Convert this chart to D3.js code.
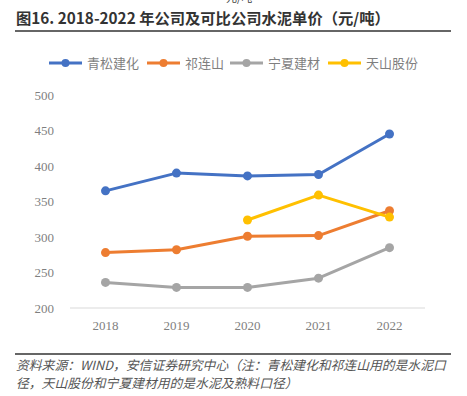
<!DOCTYPE html>
<html>
<head>
<meta charset="utf-8">
<script src="https://cdn.jsdelivr.net/npm/d3@7"></script>
<style>
  body { margin: 0; background: #fff; }
  svg { display: block; }
</style>
</head>
<body>
<svg id="chart" width="467" height="396"></svg>
<script>
const years = ["2018", "2019", "2020", "2021", "2022"];
const seriesNames = ["青松建化", "祁连山", "宁夏建材", "天山股份"];
const qingsong = [365, 390, 386, 388, 445];
const qilianshan = [278, 282, 301, 302, 337];
const ningxia = [236, 229, 229, 242, 285];
const tianshan = [null, null, 324, 359, 328];
const yTicks = [200, 250, 300, 350, 400, 450, 500];
const colors = ["#4472C4", "#ED7D31", "#A5A5A5", "#FFC000"];

const seriesData = [qingsong, qilianshan, ningxia, tianshan];

const svg = d3.select("#chart");
const cjk = "'Noto Sans CJK SC', 'Noto Sans', sans-serif";

// leftover caption from previous figure, mostly above the top edge
svg.append("text")
  .attr("x", 226).attr("y", 2)
  .attr("font-family", cjk).attr("font-size", 11)
  .attr("fill", "#444")
  .text("元/吨");

// title
svg.append("text")
  .attr("x", 16).attr("y", 24)
  .attr("font-family", cjk).attr("font-size", 15.3)
  .attr("font-weight", "bold").attr("fill", "#333")
  .text("图16. 2018-2022 年公司及可比公司水泥单价（元/吨）");

svg.append("line")
  .attr("x1", 15).attr("x2", 451).attr("y1", 31).attr("y2", 31)
  .attr("stroke", "#333").attr("stroke-width", 1.5);

// scales
const x = d3.scaleBand().domain(years).range([70, 425]);
const y = d3.scaleLinear().domain([200, 500]).range([308, 95]);

// y axis labels
svg.append("g")
  .selectAll("text")
  .data(yTicks)
  .join("text")
  .attr("x", 54)
  .attr("y", (d) => y(d) + 4.5)
  .attr("text-anchor", "end")
  .attr("font-family", "'Liberation Serif', serif")
  .attr("font-size", 13)
  .attr("fill", "#7f7f7f")
  .text((d) => d);

// x axis line + labels
svg.append("line")
  .attr("x1", 70).attr("x2", 425).attr("y1", y(200)).attr("y2", y(200))
  .attr("stroke", "#d9d9d9").attr("stroke-width", 1);

svg.append("g")
  .selectAll("text")
  .data(years)
  .join("text")
  .attr("x", (d) => x(d) + x.bandwidth() / 2)
  .attr("y", 330)
  .attr("text-anchor", "middle")
  .attr("font-family", "'Liberation Serif', serif")
  .attr("font-size", 13)
  .attr("fill", "#7f7f7f")
  .text((d) => d);

// lines
const line = d3.line()
  .defined((d) => d.v != null)
  .x((d) => x(d.year) + x.bandwidth() / 2)
  .y((d) => y(d.v));

seriesData.forEach((vals, i) => {
  const pts = vals.map((v, j) => ({ year: years[j], v }));
  const g = svg.append("g");
  g.append("path")
    .datum(pts)
    .attr("d", line)
    .attr("fill", "none")
    .attr("stroke", colors[i])
    .attr("stroke-width", 3)
    .attr("stroke-linejoin", "round");
  g.selectAll("circle")
    .data(pts.filter((d) => d.v != null))
    .join("circle")
    .attr("cx", (d) => x(d.year) + x.bandwidth() / 2)
    .attr("cy", (d) => y(d.v))
    .attr("r", 4.5)
    .attr("fill", colors[i]);
});

// legend
const legendX = [49, 147, 230, 328];
const legend = svg.append("g")
  .selectAll("g")
  .data(seriesNames)
  .join("g")
  .attr("transform", (d, i) => `translate(${legendX[i]},63)`);
legend.append("line")
  .attr("x1", 0).attr("x2", 33)
  .attr("stroke", (d, i) => colors[i]).attr("stroke-width", 3);
legend.append("circle")
  .attr("cx", 16.5).attr("r", 4)
  .attr("fill", (d, i) => colors[i]);
legend.append("text")
  .attr("x", 38).attr("y", 4.5)
  .attr("font-family", cjk).attr("font-size", 13)
  .attr("fill", "#7f7f7f")
  .text((d) => d);

// footer
svg.append("line")
  .attr("x1", 15).attr("x2", 451).attr("y1", 354).attr("y2", 354)
  .attr("stroke", "#333").attr("stroke-width", 1.5);

const notes = [
  "资料来源：WIND，安信证券研究中心（注：青松建化和祁连山用的是水泥口",
  "径，天山股份和宁夏建材用的是水泥及熟料口径）"
];
svg.append("g")
  .selectAll("text")
  .data(notes)
  .join("text")
  .attr("x", 16)
  .attr("y", (d, i) => 370 + i * 18)
  .attr("font-family", cjk)
  .attr("font-size", 12.8)
  .attr("font-style", "italic")
  .attr("fill", "#555")
  .text((d) => d);
</script>
</body>
</html>
